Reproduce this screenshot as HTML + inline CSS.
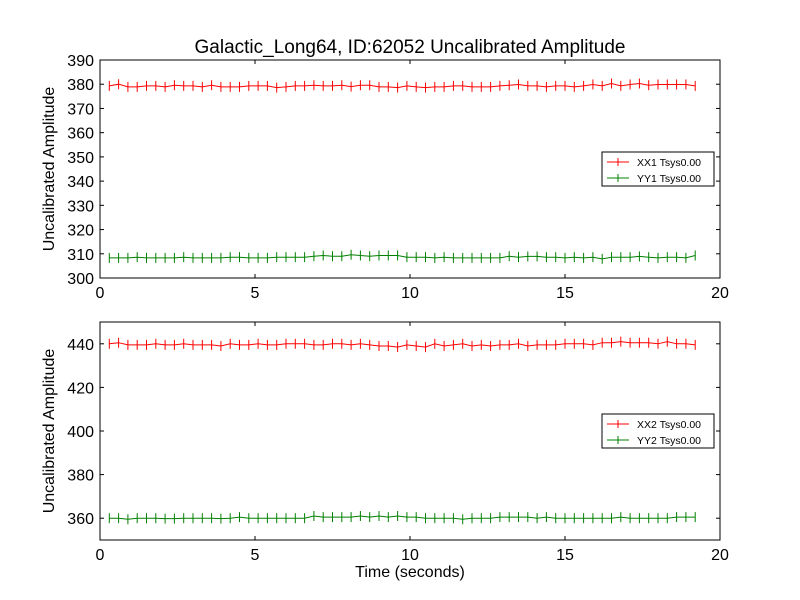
<!DOCTYPE html>
<html><head><meta charset="utf-8"><style>
body{margin:0;background:#fff;}
svg{display:block;font-family:"Liberation Sans","DejaVu Sans",sans-serif;}
</style></head><body>
<svg id="chart" width="800" height="600"></svg>
<script>
const times = Array.from({length:64},(_,i)=>+(0.3*(i+1)).toFixed(1));
const xx1 = [379.3,380.0,378.9,378.9,379.3,379.3,378.9,379.6,379.3,379.3,378.9,379.6,378.9,378.9,378.9,379.3,379.3,379.3,378.6,378.9,379.3,379.3,379.6,379.3,379.3,379.6,379.0,379.6,379.6,378.9,378.9,378.6,379.3,378.9,378.6,378.9,378.9,379.3,379.3,378.9,378.9,378.9,379.3,379.6,379.9,379.3,379.3,378.9,379.3,379.3,378.9,379.3,379.9,379.3,380.3,379.3,379.9,380.3,379.6,379.9,379.9,379.9,379.9,379.3];
const yy1 = [308.3,308.3,308.3,308.6,308.3,308.3,308.3,308.3,308.6,308.3,308.3,308.3,308.3,308.6,308.6,308.3,308.3,308.3,308.6,308.6,308.6,308.6,309.0,309.3,309.0,309.0,309.6,309.3,309.0,309.3,309.3,309.3,308.6,308.6,308.6,308.3,308.6,308.3,308.3,308.3,308.3,308.3,308.3,309.0,308.6,308.9,308.9,308.6,308.6,308.3,308.6,308.3,308.6,307.9,308.6,308.6,308.6,308.9,308.6,308.3,308.6,308.6,308.3,309.3];
const xx2 = [440.0,440.5,439.5,439.5,439.5,440.0,439.5,439.5,440.0,439.5,439.5,439.5,439.0,440.0,439.5,439.5,440.0,439.5,439.5,440.0,440.0,440.0,439.5,439.5,440.0,440.0,439.5,440.0,439.5,439.0,439.0,438.5,439.5,439.0,438.5,440.0,439.0,439.5,440.0,439.0,439.5,439.0,439.5,439.5,440.0,439.0,439.5,439.5,439.5,440.0,440.0,440.0,439.5,440.5,440.5,441.0,440.5,440.5,440.5,440.0,441.0,440.0,440.0,439.5];
const yy2 = [360.0,360.0,359.5,360.0,360.0,360.0,359.8,359.8,360.0,360.0,360.0,360.0,359.8,360.0,360.5,360.0,360.0,360.0,360.0,360.0,360.0,360.0,361.0,360.5,360.5,360.5,360.5,361.0,360.5,361.0,360.5,361.0,360.5,360.5,360.0,360.0,360.0,360.0,359.5,360.0,360.0,360.0,360.5,360.5,360.5,360.5,360.0,360.5,360.0,360.0,360.0,360.0,360.0,360.0,360.0,360.5,360.0,360.0,360.0,360.0,360.0,360.5,360.5,360.5];
const xTicks = [0,5,10,15,20];
const yTicksTop = [300,310,320,330,340,350,360,370,380,390];
const yTicksBot = [360,380,400,420,440];

const svg = document.getElementById('chart');
const NS = 'http://www.w3.org/2000/svg';
function mk(tag, attrs, parent){const e=document.createElementNS(NS,tag);for(const k in attrs)e.setAttribute(k,attrs[k]);(parent||svg).appendChild(e);return e;}

function panel(top, bottom, ymin, ymax, yticks, s1, s2, n1, n2, legY, showXLabel, pname){
  const L=100,R=720;
  const g = mk('g',{});
  
  
  const xs = v => L + (v-0)/(20-0)*(R-L);
  const ys = v => bottom - (v-ymin)/(ymax-ymin)*(bottom-top);
  // ticks
  xTicks.forEach(t=>{
    const x=xs(t);
    mk('line',{x1:x,x2:x,y1:bottom,y2:bottom-4,stroke:'#000'},g);
    mk('line',{x1:x,x2:x,y1:top,y2:top+4,stroke:'#000'},g);
    const tx=mk('text',{x:x,y:bottom+20,'text-anchor':'middle','font-size':16},g);
    tx.textContent=t;
    
    
  });
  yticks.forEach(t=>{
    const y=ys(t);
    mk('line',{x1:L,x2:L+4,y1:y,y2:y,stroke:'#000'},g);
    mk('line',{x1:R,x2:R-4,y1:y,y2:y,stroke:'#000'},g);
    const tx=mk('text',{x:L-6,y:y+6,'text-anchor':'end','font-size':16},g);
    tx.textContent=t;
    
    
  });
  function series(vals,color,name){
    const sg=mk('g',{},g);
    
    
    const pts=vals.map((v,i)=>xs(times[i]).toFixed(1)+','+ys(v).toFixed(1)).join(' ');
    mk('polyline',{points:pts,fill:'none',stroke:color,'stroke-width':1},sg);
    vals.forEach((v,i)=>{const x=xs(times[i]),y=ys(v);mk('line',{x1:x,x2:x,y1:y-5,y2:y+5,stroke:color},sg);});
  }
  series(s1,'#ff0000','series-'+n1.split(' ')[0].toLowerCase());
  series(s2,'#008000','series-'+n2.split(' ')[0].toLowerCase());
  const fr=mk('rect',{x:L,y:top,width:R-L,height:bottom-top,fill:'none',stroke:'#000','stroke-width':1},g);
  
  
  const yl=mk('text',{x:0,y:0,transform:`translate(54,${(top+bottom)/2}) rotate(-90)`,'text-anchor':'middle','font-size':16},g);
  yl.textContent='Uncalibrated Amplitude';
  
  
  // legend
  const lg=mk('g',{},g);
  
  
  mk('rect',{x:602,y:legY,width:112,height:34,fill:'#fff',stroke:'#000'},lg);
  [[n1,'#ff0000',legY+10],[n2,'#008000',legY+26]].forEach(([n,c,y])=>{
    const eg=mk('g',{},lg);
    
    
    mk('line',{x1:607,x2:629,y1:y,y2:y,stroke:c},eg);
    mk('line',{x1:618,x2:618,y1:y-4,y2:y+4,stroke:c},eg);
    const t=mk('text',{x:637,y:y+4,'font-size':10.5},eg);t.textContent=n;
  });
  if(showXLabel){
    const xl=mk('text',{x:410,y:577,'text-anchor':'middle','font-size':16},g);
    xl.textContent='Time (seconds)';
    
    
  }
}
const title=mk('text',{x:410,y:53,'text-anchor':'middle','font-size':19});
title.textContent='Galactic_Long64, ID:62052 Uncalibrated Amplitude';


panel(60,278,300,390,yTicksTop,xx1,yy1,'XX1 Tsys0.00','YY1 Tsys0.00',152,false,'top-panel');
panel(322,540,350,450,yTicksBot,xx2,yy2,'XX2 Tsys0.00','YY2 Tsys0.00',414,true,'bottom-panel');
</script>
</body></html>
